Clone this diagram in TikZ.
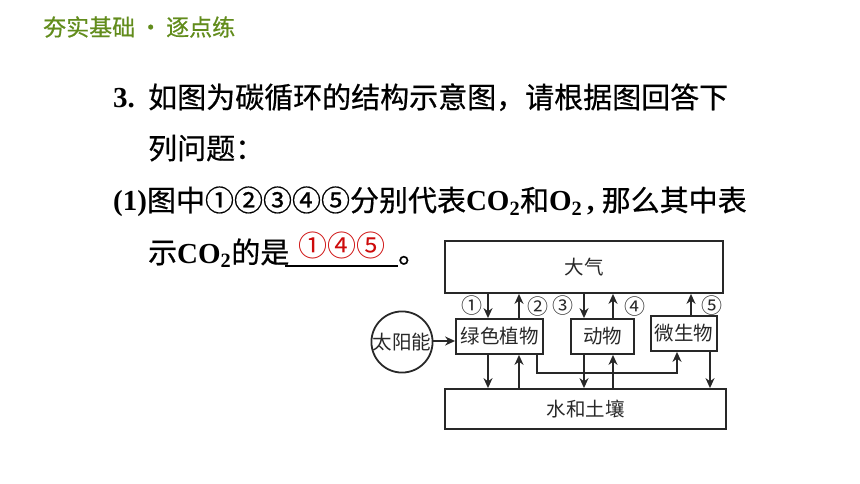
\documentclass[tikz,border=0pt]{standalone}
\usepackage{fontspec}
\setmainfont{Liberation Serif}
\newfontfamily\cjk{Noto Sans CJK SC}
\newfontfamily\cjkm[FakeBold=0.6]{Noto Sans CJK SC}
\usetikzlibrary{arrows.meta}
\definecolor{hdr}{RGB}{98,140,28}
\definecolor{ink}{RGB}{40,40,40}
\definecolor{ans}{RGB}{205,10,10}
\begin{document}
\begin{tikzpicture}[x=1pt,y=-1pt,
  box/.style={draw=ink, line width=1.8pt, inner sep=0, font=\cjk\fontsize{19.5}{19.5}\selectfont, text=ink},
  arr/.style={draw=ink, line width=1.8pt, -{Stealth[length=10pt,width=9pt]}},
  lab/.style={font=\cjk\fontsize{21}{21}\selectfont, text=ink, inner sep=0},
  main/.style={anchor=base west, inner sep=0, font=\fontsize{29}{29}\selectfont}]
\useasboundingbox (0,0) rectangle (860,484);
% header
\node[anchor=west, inner sep=0, text=hdr, font=\cjkm\fontsize{23}{23}\selectfont] (hd) at (43,27) {夯实基础\hspace{4pt}•\hspace{4pt}逐点练};
% question text
\node[main] (n3) at (113,108) {\bfseries 3.};
\node[main] (q1) at (148,108) {\cjkm 如图为碳循环的结构示意图，请根据图回答下};
\node[main] (q2) at (148,159) {\cjkm 列问题：};
\node[main] (q3) at (113,211) {\bfseries(1)\cjkm\mdseries 图中①②③④⑤分别代表\rmfamily\bfseries CO\textsubscript{2}\cjkm\mdseries 和\rmfamily\bfseries O\textsubscript{2}\,,\ \cjkm\mdseries 那么其中表};
\node[main] (q4) at (148,263) {\cjkm 示\rmfamily\bfseries CO\textsubscript{2}\cjkm\mdseries 的是};
\coordinate (u1) at (285,266);
\coordinate (u2) at (398,266);
\draw[line width=1.2pt] (u1) -- (u2);
\node[main] (q5) at (398,263) {\cjkm 。};
\node[inner sep=0, text=ans, font=\cjk\fontsize{29}{29}\selectfont] (ansn) at (342,245) {①④⑤};
% diagram boxes
\node[box, minimum width=278, minimum height=52] (air) at (584,267) {大气};
\node[box, minimum width=87, minimum height=35] (plant) at (499.5,336.5) {绿色植物};
\node[box, minimum width=63, minimum height=35] (animal) at (602.5,336.5) {动物};
\node[box, minimum width=66, minimum height=35] (microbe) at (684,333.5) {微生物};
\node[box, minimum width=281, minimum height=40] (soil) at (585.5,409) {水和土壤};
\node[box, circle, minimum size=61] (sun) at (402,342) {太阳能};
% x guides
\coordinate (xa) at (488,0);
\coordinate (xb) at (519,0);
\coordinate (xc) at (584,0);
\coordinate (xd) at (613,0);
\coordinate (xe) at (691,0);
\coordinate (xf) at (710,0);
\coordinate (xg) at (537,373);
\coordinate (xh) at (677,373);
% arrows top
\draw[arr] (air.south -| xa) -- (plant.north -| xa);
\draw[arr] (plant.north -| xb) -- (air.south -| xb);
\draw[arr] (air.south -| xc) -- (animal.north -| xc);
\draw[arr] (animal.north -| xd) -- (air.south -| xd);
\draw[arr] (microbe.north -| xe) -- (air.south -| xe);
% arrows bottom
\draw[arr] (plant.south -| xa) -- (soil.north -| xa);
\draw[arr] (soil.north -| xb) -- (plant.south -| xb);
\draw[arr] (animal.south -| xc) -- (soil.north -| xc);
\draw[arr] (soil.north -| xd) -- (animal.south -| xd);
\draw[arr] (microbe.south -| xf) -- (soil.north -| xf);
\draw[arr] (plant.south -| xg) -- (xg) -- (xh) -- (microbe.south -| xh);
\draw[arr] (sun.east |- 0,341) -- (plant.west |- 0,341);
% labels
\node[lab] (l1) at (472,306) {①};
\node[lab] (l2) at (538,307) {②};
\node[lab] (l3) at (563,306) {③};
\node[lab] (l4) at (635,307) {④};
\node[lab] (l5) at (712,306) {⑤};
\end{tikzpicture}
\end{document}
